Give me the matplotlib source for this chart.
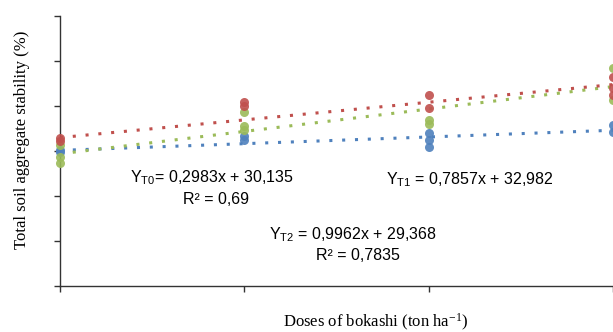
import matplotlib
matplotlib.use("Agg")
import numpy as np
import matplotlib.pyplot as plt

plt.rcParams["mathtext.default"] = "regular"

# dosis bokashi (ton/ha)
doses = [0, 5, 10, 15]

# ulangan tiap perlakuan
t0_x = [0, 0, 5, 5, 10, 10, 10, 15, 15]
t0_y = [30.2, 29.8, 33.3, 32.4, 34.0, 32.4, 30.9, 35.8, 34.2]

t1_x = [0, 0, 5, 5, 10, 10, 15, 15, 15]
t1_y = [32.9, 32.2, 40.9, 40.0, 42.4, 39.6, 46.4, 44.0, 42.4]

t2_x = [0, 0, 0, 5, 5, 5, 10, 10, 15, 15]
t2_y = [31.3, 28.7, 27.3, 38.7, 35.6, 34.7, 36.9, 36.0, 48.4, 41.3]

# koefisien regresi linier (slope, intercept)
t0_fit = [0.2983, 30.135]
t1_fit = [0.7857, 32.982]
t2_fit = [0.9962, 29.368]

BLUE = "#4F81BD"
RED = "#C0504D"
GREEN = "#9BBB59"


def main():
    W, H = 613, 332
    fig = plt.figure(figsize=(W / 100, H / 100), dpi=100)
    ax = fig.add_axes([60 / W, 46 / H, 590 / W, 270 / H])

    xs = np.array([doses[0], doses[-1]])
    dot = (0, (1, 3.2))
    for fit, col in [(t0_fit, BLUE), (t2_fit, GREEN), (t1_fit, RED)]:
        ax.plot(xs, np.polyval(fit, xs), color=col, lw=2.2,
                linestyle=dot, dash_capstyle="butt", zorder=2)

    for x, y, col in [(t0_x, t0_y, BLUE), (t2_x, t2_y, GREEN), (t1_x, t1_y, RED)]:
        ax.plot(x, y, "o", color=col, ms=6.5, mec="none", alpha=0.9,
                clip_on=False, zorder=3)

    ax.set_xlim(0, 16)
    ax.set_ylim(0, 60)
    ax.set_xticks(doses)
    ax.set_yticks(np.arange(0, 61, 10))
    ax.tick_params(labelbottom=False, labelleft=False, direction="out",
                   length=4.5, width=1, color="#333333")
    for s in ["top", "right"]:
        ax.spines[s].set_visible(False)
    for s in ["left", "bottom"]:
        ax.spines[s].set_color("#333333")
        ax.spines[s].set_linewidth(1)

    sans = "Liberation Sans"
    fs = 11.5
    fig.text(212 / W, 1 - 178 / H, r"Y$_{T0}$= 0,2983x + 30,135",
             family=sans, size=fs, ha="center", va="center")
    fig.text(216 / W, 1 - 199 / H, "R² = 0,69",
             family=sans, size=fs, ha="center", va="center")
    fig.text(470 / W, 1 - 180 / H, r"Y$_{T1}$ = 0,7857x + 32,982",
             family=sans, size=fs, ha="center", va="center")
    fig.text(353 / W, 1 - 235 / H, r"Y$_{T2}$ = 0,9962x + 29,368",
             family=sans, size=fs, ha="center", va="center")
    fig.text(358 / W, 1 - 256 / H, "R² = 0,7835",
             family=sans, size=fs, ha="center", va="center")

    serif = "Liberation Serif"
    fig.text(22 / W, 1 - 140 / H, "Total soil aggregate stability (%)",
             family=serif, size=12, rotation=90, ha="center", va="center")
    fig.text(283 / W, 1 - 322 / H, r"Doses of bokashi (ton ha$^{\mathregular{-1}}$)",
             family=serif, size=12, ha="left", va="center")

    fig.savefig("out.png", dpi=100)
    plt.close(fig)


if __name__ == "__main__":
    main()
